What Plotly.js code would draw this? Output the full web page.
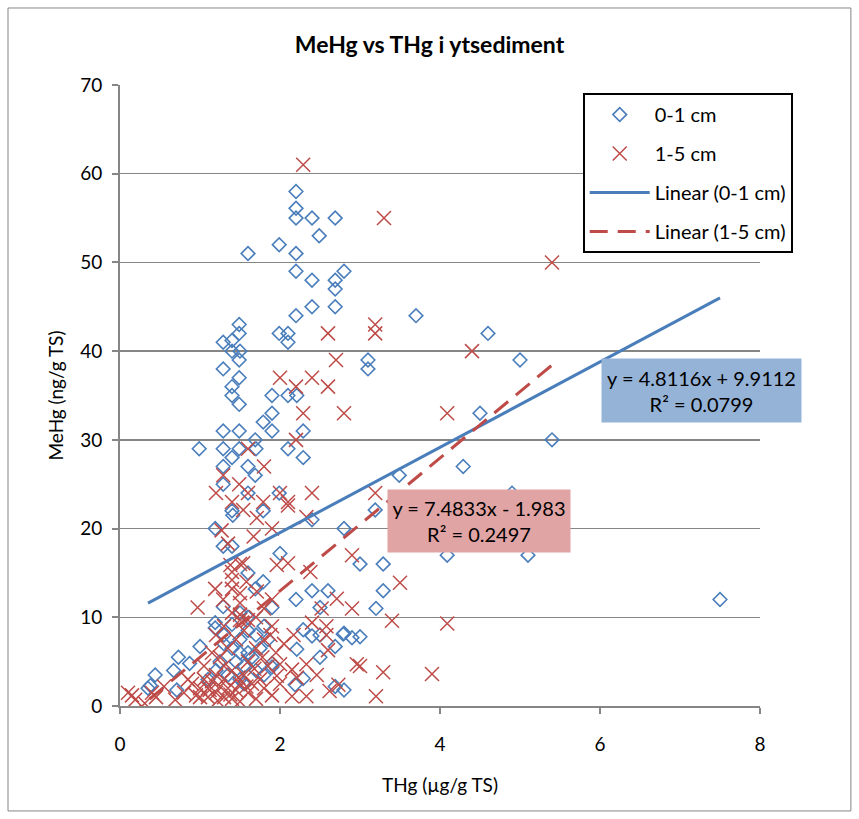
<!DOCTYPE html>
<html>
<head>
<meta charset="utf-8">
<script src="https://cdn.plot.ly/plotly-3.0.1.min.js"></script>
<style>
  html, body { margin: 0; padding: 0; background: #ffffff; }
  #chart { width: 859px; height: 819px; }
</style>
</head>
<body>
<div id="chart"></div>
<script>
// THg (µg/g TS) and MeHg (ng/g TS), surface layer 0-1 cm
const thg01 = [
  2.20, 2.20, 2.20, 2.40, 2.69, 2.49, 1.60, 1.99, 2.20, 2.20, 2.40, 2.69, 2.80, 2.69, 2.69, 2.40, 2.20, 3.70,
  4.60, 5.00, 3.10, 3.10, 4.50, 5.40, 4.29, 3.49, 4.90, 3.19, 2.80, 3.00, 3.29, 4.09, 5.10, 3.29, 3.20, 2.80,
  2.90, 3.00, 2.80, 7.50,
  1.49, 1.49, 1.99, 2.10, 2.10, 1.29, 1.40, 1.40, 1.50, 1.49, 1.29, 1.49, 1.40, 1.40, 1.49, 1.90, 2.10, 2.21,
  1.90, 1.79, 1.90, 1.29, 1.49, 2.29, 0.99, 1.29, 1.49, 1.69, 1.70, 2.10, 2.29, 1.40, 1.29, 1.60, 1.69, 1.29,
  1.60, 1.99,
  1.40, 1.79, 1.41, 1.19, 1.29, 1.40, 2.40, 2.00, 1.60, 1.79, 1.69, 2.20, 2.40, 2.60, 2.50, 1.29, 1.90, 1.19,
  1.19, 1.00, 0.73, 0.67, 0.44, 0.38, 0.87, 0.71, 0.35, 2.29, 2.40, 2.50, 2.79, 2.21, 2.69, 2.50, 1.90, 1.90,
  2.29, 2.69, 2.19,
  1.30, 1.40, 1.50, 1.60, 1.70, 1.80, 1.45, 1.55, 1.65, 1.35, 1.25, 1.50, 1.75, 1.85, 1.60, 1.40, 1.20, 1.10,
  1.55, 1.80, 1.70, 1.50, 1.30, 1.60, 1.50
];
const mehg01 = [
  58.0, 56.1, 55.0, 55.0, 55.0, 53.0, 51.0, 52.0, 51.0, 49.0, 48.0, 48.0, 49.0, 47.0, 45.0, 45.0, 44.0, 44.0,
  42.0, 39.0, 39.0, 38.0, 33.0, 30.0, 27.0, 26.0, 24.0, 22.1, 20.0, 16.0, 16.0, 17.0, 17.0, 13.0, 11.0, 8.2,
  7.7, 7.8, 1.8, 12.0,
  43.0, 42.0, 42.0, 42.0, 41.0, 41.0, 41.2, 40.0, 40.0, 39.0, 38.0, 37.0, 36.0, 35.0, 34.0, 35.0, 35.0, 35.0,
  33.0, 32.0, 31.0, 31.0, 31.0, 31.0, 29.0, 29.0, 29.0, 30.0, 29.0, 29.0, 28.0, 28.0, 27.0, 27.0, 26.0, 25.0,
  24.0, 24.0,
  22.0, 22.0, 21.5, 20.0, 18.0, 18.0, 21.0, 17.2, 15.0, 14.0, 13.2, 12.0, 13.0, 13.0, 11.1, 11.2, 11.1, 8.8,
  9.4, 6.7, 5.5, 4.0, 3.5, 2.3, 4.8, 1.8, 2.0, 8.6, 7.9, 8.0, 8.1, 6.4, 6.7, 5.5, 4.8, 4.4,
  3.1, 2.2, 2.4,
  7.0, 6.5, 7.5, 6.0, 8.0, 9.0, 5.0, 4.5, 5.5, 3.5, 5.0, 3.0, 6.5, 7.5, 8.5, 9.2, 4.0, 3.0,
  2.5, 3.5, 4.0, 6.0, 8.0, 10.0, 10.5
];

// THg (µg/g TS) and MeHg (ng/g TS), layer 1-5 cm
const thg15 = [
  2.29, 3.30, 5.40, 3.19, 3.19, 2.60, 4.40, 2.70, 2.00, 2.40, 2.20, 2.60, 2.29, 2.80, 4.09, 2.20, 1.60, 1.80,
  1.29, 1.49, 1.20, 1.60, 2.00, 2.40, 3.19, 1.40, 1.79, 2.10,
  2.10, 2.33, 1.90, 1.71, 1.54, 1.67, 1.27, 1.35, 2.90, 1.96, 2.10, 2.38, 1.54, 1.38, 1.40, 1.50, 1.40, 1.19,
  1.40, 1.50, 1.29, 1.50, 1.71, 1.90, 2.71, 0.97, 1.58, 3.50, 2.90, 2.52, 1.60, 1.50, 1.50, 3.40, 4.09, 2.40,
  2.58, 2.17, 2.58, 2.60, 2.33, 2.46, 2.15, 2.21, 2.62, 2.00, 1.96, 2.15, 2.33, 2.73, 2.96, 3.00, 3.29, 3.90,
  3.20,
  0.10, 0.31, 0.40, 0.19, 0.69, 0.15, 0.45, 0.55, 0.80, 0.90, 0.95, 1.00, 1.05, 1.10, 1.10, 1.15, 1.20, 1.20,
  1.25, 1.30, 1.30, 1.35, 1.40, 1.40, 1.45, 1.50, 1.50, 1.55, 1.60, 1.60, 1.65, 1.70, 1.75, 1.80, 1.85, 1.90,
  1.95, 2.00, 2.05, 1.25, 1.35, 1.45, 1.55, 1.15, 1.05, 1.70, 1.80, 1.90, 1.30, 1.00, 0.85, 1.12, 1.22, 1.38,
  1.48, 1.58, 1.68, 1.78, 1.88, 1.40, 1.70, 1.80, 1.30, 1.20
];
const mehg15 = [
  61.0, 55.0, 50.0, 43.0, 42.0, 42.0, 40.0, 39.0, 37.0, 37.0, 36.0, 36.0, 33.0, 33.0, 33.0, 30.0, 29.0, 27.0,
  26.0, 25.0, 24.0, 24.0, 24.0, 24.0, 24.0, 23.0, 23.0, 23.0,
  22.6, 21.3, 20.0, 21.2, 22.1, 19.1, 19.8, 18.3, 17.0, 15.9, 16.1, 15.1, 16.1, 15.9, 15.1, 16.0, 14.2, 13.2,
  13.2, 12.7, 12.0, 11.6, 12.9, 12.0, 12.1, 11.1, 14.0, 13.9, 11.0, 11.0, 9.7, 9.7, 10.3, 9.6, 9.3, 9.4,
  9.0, 8.0, 8.0, 6.3, 4.7, 3.5, 4.1, 3.2, 1.7, 4.7, 3.4, 1.1, 1.1, 2.4, 4.7, 4.5, 3.8, 3.6,
  1.1,
  1.5, 0.3, 1.5, 0.7, 0.7, 1.2, 1.0, 2.2, 1.5, 2.5, 1.2, 2.0, 3.0, 1.0, 2.0, 2.8, 1.5, 3.5,
  2.2, 1.0, 3.0, 2.0, 0.8, 4.0, 1.8, 2.5, 0.5, 3.5, 1.5, 5.0, 2.5, 0.8, 3.0, 2.0, 4.5, 1.2,
  6.0, 2.5, 7.0, 5.5, 6.5, 7.5, 8.5, 6.0, 4.5, 6.5, 7.5, 9.0, 4.5, 1.0, 3.0, 1.8, 0.6, 1.3,
  3.2, 2.2, 4.2, 5.5, 8.0, 10.5, 10.0, 11.0, 9.0, 8.0
];

// Linear trendline coefficients, as printed on the chart
const fit01 = { slope: 4.8116, intercept: 9.9112, r2: 0.0799 };
const fit15 = { slope: 7.4833, intercept: -1.983, r2: 0.2497 };

const seriesNames = ['0-1 cm', '1-5 cm', 'Linear (0-1 cm)', 'Linear (1-5 cm)'];
const blue = '#4a7ebb';
const red = '#be4b48';

function trend(xs, fit) {
  const lo = Math.min(...xs), hi = Math.max(...xs);
  return { x: [lo, hi], y: [fit.slope * lo + fit.intercept, fit.slope * hi + fit.intercept] };
}
function fmtSigned(v) {
  return (v < 0 ? ' - ' : ' + ') + Math.abs(v);
}

const t01 = trend(thg01, fit01);
const t15 = trend(thg15, fit15);

const font = 'Lato, "Open Sans", "Liberation Sans", sans-serif';

const data = [
  {
    x: thg01, y: mehg01, type: 'scatter', mode: 'markers', name: seriesNames[0], legendgroup: 'a',
    marker: { symbol: 'diamond-open', size: 10.5, color: blue, line: { width: 1.6, color: blue } }
  },
  {
    x: thg15, y: mehg15, type: 'scatter', mode: 'markers', name: seriesNames[1], legendgroup: 'b',
    marker: { symbol: 'x-thin-open', size: 14, color: red, line: { width: 1.5, color: red } }
  },
  {
    x: t01.x, y: t01.y, type: 'scatter', mode: 'lines', name: seriesNames[2], legendgroup: 'c',
    line: { color: blue, width: 3 }
  },
  {
    x: t15.x, y: t15.y, type: 'scatter', mode: 'lines', name: seriesNames[3], legendgroup: 'd',
    line: { color: red, width: 3, dash: '18px,10px' }
  }
];

const grid = '#868686';

const layout = {
  width: 859, height: 819,
  margin: { l: 120, r: 99, t: 85, b: 113 },
  paper_bgcolor: '#ffffff', plot_bgcolor: '#ffffff',
  font: { family: font, size: 19, color: '#000000' },
  showlegend: true,
  title: {
    text: '<b>MeHg vs THg i ytsediment</b>',
    font: { family: font, size: 23, color: '#000000' },
    x: 0.5, xanchor: 'center', y: 0.945, yanchor: 'middle'
  },
  xaxis: {
    range: [0, 8], dtick: 2, tick0: 0,
    showgrid: false, zeroline: false,
    showline: true, linecolor: grid, linewidth: 2,
    ticks: 'outside', ticklen: 6, tickcolor: grid, tickwidth: 2,
    ticklabelstandoff: 14,
    tickfont: { family: font, size: 19 },
    title: { text: 'THg (µg/g TS)', font: { family: font, size: 19 }, standoff: 25 }
  },
  yaxis: {
    range: [0, 70], dtick: 10, tick0: 0,
    showgrid: true, gridcolor: grid, gridwidth: 1.5, zeroline: false,
    showline: true, linecolor: grid, linewidth: 2,
    ticks: 'outside', ticklen: 6, tickcolor: grid, tickwidth: 2,
    ticklabelstandoff: 6,
    tickfont: { family: font, size: 19 },
    title: { text: 'MeHg (ng/g TS)', font: { family: font, size: 19 }, standoff: 12 }
  },
  legend: {
    x: 0.723, y: 0.987, xanchor: 'left', yanchor: 'top',
    bgcolor: '#ffffff', bordercolor: '#000000', borderwidth: 2,
    font: { family: font, size: 20 },
    traceorder: 'grouped', tracegroupgap: 10, itemwidth: 60
  },
  annotations: [
    {
      x: 7.27, y: 35.57, xref: 'x', yref: 'y', showarrow: false,
      text: 'y = ' + fit01.slope + 'x' + fmtSigned(fit01.intercept) + '<br>R² = ' + fit01.r2,
      font: { family: font, size: 20, color: '#000000' },
      bgcolor: '#95b3d7', width: 197, height: 61, align: 'center'
    },
    {
      x: 4.49, y: 20.85, xref: 'x', yref: 'y', showarrow: false,
      text: 'y = ' + fit15.slope + 'x' + fmtSigned(fit15.intercept) + '<br>R² = ' + fit15.r2,
      font: { family: font, size: 20, color: '#000000' },
      bgcolor: '#e0a4a4', width: 180, height: 60, align: 'center'
    }
  ],
  shapes: [
    {
      type: 'rect', xref: 'paper', yref: 'paper', layer: 'below',
      x0: -0.175, x1: 1.142, y0: -0.169, y1: 1.124,
      line: { color: '#868686', width: 1 }, fillcolor: 'rgba(0,0,0,0)'
    }
  ]
};

Plotly.newPlot('chart', data, layout, { displayModeBar: false, staticPlot: true });
</script>
</body>
</html>
